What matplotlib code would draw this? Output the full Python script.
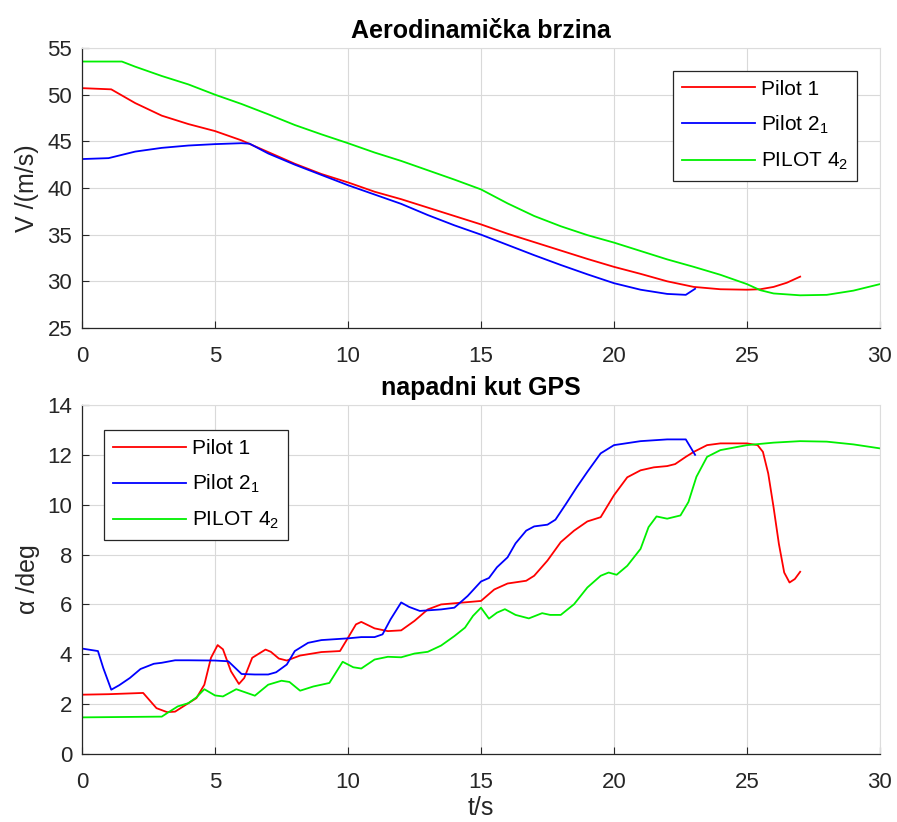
import numpy as np
import matplotlib
matplotlib.use("Agg")
import matplotlib.pyplot as plt

plt.rcParams['font.family'] = ['Liberation Sans', 'DejaVu Sans']
plt.rcParams['mathtext.fontset'] = 'custom'
plt.rcParams['mathtext.rm'] = 'Liberation Sans'
plt.rcParams['mathtext.it'] = 'Liberation Sans'

# --- Aerodinamicka brzina (V, m/s) ---
t_v1 = [0, 1.1, 2, 3, 4, 5, 6, 7, 8, 9, 10, 11, 12, 13, 14, 15, 16, 17, 18, 19,
        20, 21, 22, 23, 24, 25, 25.5, 26, 26.5, 27]
v1 = [50.7, 50.57, 49.1, 47.75, 46.85, 46.1, 45.1, 43.85, 42.6, 41.5, 40.6, 39.6,
      38.8, 37.9, 37.0, 36.1, 35.1, 34.2, 33.3, 32.4, 31.55, 30.8, 30.0, 29.4,
      29.15, 29.1, 29.15, 29.4, 29.85, 30.5]

t_v2 = [0, 1, 2, 3, 4, 5, 6, 6.3, 7, 8, 9, 10, 11, 12, 13, 14, 15, 16, 17, 18, 19,
        20, 21, 22, 22.7, 23.05]
v2 = [43.1, 43.2, 43.9, 44.3, 44.55, 44.7, 44.8, 44.75, 43.7, 42.5, 41.4, 40.3,
      39.3, 38.3, 37.1, 36.0, 35.0, 33.9, 32.8, 31.75, 30.75, 29.8, 29.1, 28.65,
      28.55, 29.2]

t_v4 = [0, 1.5, 2, 3, 4, 5, 6, 7, 8, 9, 10, 11, 12, 13, 14, 15, 16, 17, 18, 19,
        20, 21, 22, 23, 24, 25, 25.5, 26, 27, 28, 29, 30]
v4 = [53.55, 53.55, 53.0, 52.0, 51.1, 50.0, 49.0, 47.9, 46.75, 45.75, 44.8, 43.8,
      42.9, 41.9, 40.9, 39.85, 38.35, 37.0, 35.9, 34.95, 34.15, 33.25, 32.35, 31.55,
      30.7, 29.7, 29.05, 28.7, 28.5, 28.55, 29.0, 29.7]

# --- napadni kut GPS (alpha, deg) ---
t_a1 = [0, 1, 2.3, 2.8, 3.2, 3.5, 4, 4.3, 4.6, 4.85, 5.1, 5.3, 5.6, 5.9, 6.1, 6.4,
        6.9, 7.1, 7.4, 7.7, 8.2, 9, 9.7, 10, 10.3, 10.5, 11, 11.5, 12, 12.5, 13,
        13.5, 15, 15.5, 16, 16.7, 17, 17.5, 18, 18.5, 19, 19.5, 20, 20.5, 21, 21.5,
        22, 22.3, 22.7, 23, 23.5, 24, 25, 25.4, 25.6, 25.8, 26.0, 26.2, 26.4, 26.6,
        26.8, 27]
a1 = [2.38, 2.4, 2.45, 1.84, 1.68, 1.7, 2.04, 2.24, 2.78, 3.86, 4.37, 4.2, 3.32,
      2.81, 3.05, 3.86, 4.19, 4.1, 3.83, 3.75, 3.95, 4.09, 4.13, 4.66, 5.2, 5.3,
      5.04, 4.93, 4.96, 5.34, 5.8, 6.0, 6.14, 6.6, 6.84, 6.95, 7.15, 7.76, 8.5,
      8.96, 9.33, 9.5, 10.38, 11.1, 11.38, 11.5, 11.55, 11.63, 11.92, 12.12, 12.39,
      12.46, 12.46, 12.39, 12.12, 11.25, 9.9, 8.43, 7.28, 6.88, 7.02, 7.31]

t_a2 = [0, 0.6, 0.8, 1.1, 1.4, 1.8, 2.2, 2.7, 3.0, 3.5, 4, 5, 5.5, 6, 6.5, 7, 7.3,
        7.7, 8, 8.5, 9, 10, 10.5, 11, 11.3, 11.6, 12, 12.3, 12.7, 13.5, 14, 14.5,
        15, 15.3, 15.6, 16, 16.3, 16.7, 17, 17.5, 17.8, 18.2, 18.6, 19, 19.5, 20,
        21, 22, 22.7, 23.05]
a2 = [4.23, 4.13, 3.45, 2.58, 2.76, 3.05, 3.41, 3.62, 3.66, 3.76, 3.76, 3.75,
      3.72, 3.21, 3.19, 3.19, 3.28, 3.59, 4.13, 4.46, 4.57, 4.64, 4.69, 4.69, 4.8,
      5.4, 6.08, 5.9, 5.74, 5.8, 5.87, 6.34, 6.92, 7.06, 7.49, 7.89, 8.45, 8.96,
      9.13, 9.2, 9.4, 10.04, 10.7, 11.32, 12.06, 12.39, 12.55, 12.62, 12.62, 12.0]

t_a4 = [0, 3, 3.2, 3.6, 4, 4.3, 4.6, 5, 5.3, 5.8, 6.5, 7, 7.5, 7.8, 8.2, 8.7, 9.3,
        9.8, 10.2, 10.5, 11, 11.5, 12, 12.5, 13, 13.5, 14, 14.4, 14.7, 15, 15.3,
        15.6, 15.9, 16.3, 16.8, 17.3, 17.6, 18, 18.5, 19, 19.5, 19.8, 20.1, 20.5,
        21, 21.3, 21.6, 22, 22.5, 22.8, 23.1, 23.5, 24, 25, 26, 27, 28, 29, 30]
a4 = [1.47, 1.5, 1.64, 1.91, 2.04, 2.27, 2.6, 2.35, 2.31, 2.6, 2.34, 2.78, 2.94,
      2.89, 2.54, 2.71, 2.85, 3.7, 3.48, 3.43, 3.79, 3.9, 3.88, 4.03, 4.1, 4.35,
      4.73, 5.07, 5.54, 5.87, 5.43, 5.67, 5.81, 5.58, 5.44, 5.65, 5.58, 5.58, 6.01,
      6.68, 7.15, 7.28, 7.19, 7.55, 8.23, 9.1, 9.53, 9.44, 9.57, 10.11, 11.12,
      11.92, 12.19, 12.39, 12.49, 12.55, 12.53, 12.42, 12.26]

labels = ['Pilot 1', 'Pilot 2$_1$', 'PILOT 4$_2$']
colors = ['#ff0000', '#0000ff', '#00f000']
dark = '#262626'

fig = plt.figure(figsize=(8.97, 8.22), dpi=100)
ax1 = fig.add_axes([0.0914, 0.601, 0.8896, 0.3406])
ax2 = fig.add_axes([0.0914, 0.0827, 0.8896, 0.4246])


def style(ax):
    ax.grid(True, color='#d9d9d9', linewidth=0.8)
    ax.set_axisbelow(True)
    for s in ['top', 'right']:
        ax.spines[s].set_color('#dcdcdc')
        ax.spines[s].set_linewidth(0.8)
    for s in ['left', 'bottom']:
        ax.spines[s].set_color(dark)
        ax.spines[s].set_linewidth(0.9)
    ax.tick_params(direction='in', length=5, labelsize=16, colors=dark,
                   top=False, right=False)
    ax.tick_params(axis='x', pad=13)
    ax.tick_params(axis='y', pad=7)
    ax.set_xlim(0, 30)
    ax.set_xticks(np.arange(0, 31, 5))


def legend(ax, loc, anchor):
    leg = ax.legend(loc=loc, bbox_to_anchor=anchor, fontsize=15,
                    handlelength=3.5, handletextpad=0.3, fancybox=False,
                    framealpha=1, edgecolor=dark, borderaxespad=0,
                    labelspacing=0.72, borderpad=0.42)
    leg.get_frame().set_linewidth(0.9)


ax1.plot(t_v1, v1, color=colors[0], lw=1.3, label=labels[0])
ax1.plot(t_v2, v2, color=colors[1], lw=1.3, label=labels[1])
ax1.plot(t_v4, v4, color=colors[2], lw=1.3, label=labels[2])
style(ax1)
ax1.set_ylim(25, 55)
ax1.set_yticks(np.arange(25, 56, 5))
ax1.set_title('Aerodinamička brzina', fontsize=18, fontweight='bold', pad=7)
ax1.set_ylabel('V /(m/s)', fontsize=18, color=dark, labelpad=6)
legend(ax1, 'upper right', (0.971, 0.918))

ax2.plot(t_a1, a1, color=colors[0], lw=1.3, label=labels[0])
ax2.plot(t_a2, a2, color=colors[1], lw=1.3, label=labels[1])
ax2.plot(t_a4, a4, color=colors[2], lw=1.3, label=labels[2])
style(ax2)
ax2.set_ylim(0, 14)
ax2.set_yticks(np.arange(0, 15, 2))
ax2.set_title('napadni kut GPS', fontsize=18, fontweight='bold', pad=7)
ax2.set_ylabel('α /deg', fontsize=18, color=dark, labelpad=5)
ax2.set_xlabel('t/s', fontsize=18, color=dark, labelpad=2)
legend(ax2, 'upper left', (0.0276, 0.928))

fig.savefig('out.png', dpi=100)
